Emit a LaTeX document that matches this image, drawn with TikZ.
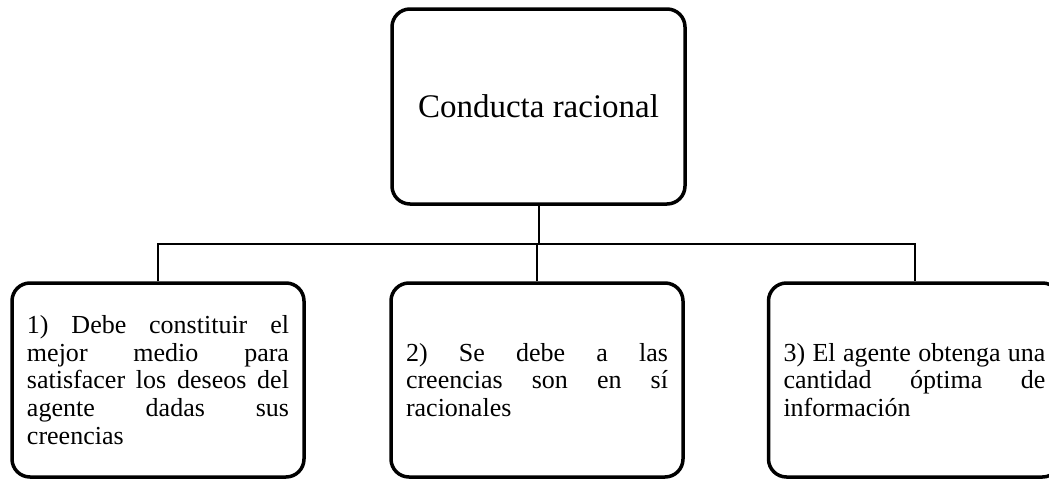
\documentclass[tikz,border=0pt]{standalone}
\usepackage{fontspec}
\setmainfont{Liberation Serif}
\newcommand\jline[1]{\leavevmode\hbox to 262pt{#1}}
\tikzset{
  box/.style={draw=black, line width=3.5pt, rounded corners=18pt, fill=white,
    minimum width=292pt, minimum height=194pt, inner xsep=15pt, inner ysep=0pt,
    text width=262pt, align=left, font=\fontsize{26}{27.6}\selectfont},
  topbox/.style={draw=black, line width=3.5pt, rounded corners=18pt, fill=white,
    minimum width=293pt, minimum height=195pt, inner sep=0pt,
    font=\fontsize{33}{38}\selectfont},
  link/.style={draw=black, line width=2pt}
}
\begin{document}
\begin{tikzpicture}[x=1pt,y=1pt]
\useasboundingbox (0,0) rectangle (1049,-479);
\node[topbox] (top) at (538.5,-106.5) {Conducta racional};
\node[box] (b1) at (158,-380) {\jline{1)\hfill Debe\hfill constituir\hfill el}\\\jline{mejor\hfill medio\hfill para}\\\jline{satisfacer\hfill los\hfill deseos\hfill del}\\\jline{agente\hfill dadas\hfill sus}\\creencias};
\node[box] (b2) at (537,-380) {\jline{2)\hfill Se\hfill debe\hfill a\hfill las}\\\jline{creencias\hfill son\hfill en\hfill sí}\\racionales};
\node[box] (b3) at (914.5,-380) {\jline{3)\hfill El\hfill agente\hfill obtenga\hfill una}\\\jline{cantidad\hfill óptima\hfill de}\\información};
\coordinate (bus) at (538.5,-243.5);
\draw[link] (b1.north) |- (bus -| b3.north) -- (b3.north);
\draw[link] (top.south) -- (top.south |- bus);
\draw[link] (b2.north) -- (b2.north |- bus);
\end{tikzpicture}
\end{document}
